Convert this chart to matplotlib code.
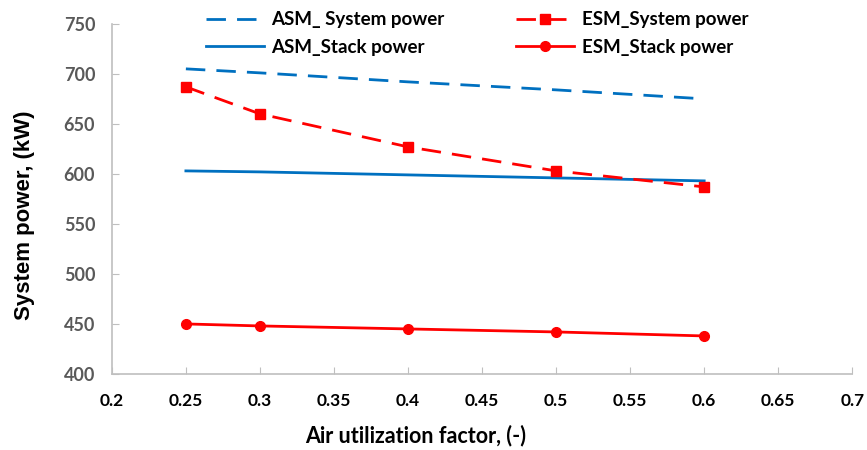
import matplotlib.pyplot as plt
import matplotlib.ticker as ticker

plt.rcParams['font.family'] = ['Lato', 'DejaVu Sans']

air_factor = [0.25, 0.3, 0.4, 0.5, 0.6]
asm_system = [705, 701, 692, 684, 675]
asm_stack = [603, 602, 599, 596, 593]
esm_system = [687, 660, 627, 603, 587]
esm_stack = [450, 448, 445, 442, 438]

blue = '#0070C0'
red = '#FF0000'

fig = plt.figure(figsize=(8.67, 4.5), dpi=100)
ax = fig.add_axes([0.129, 0.169, 0.854, 0.778])

l1, = ax.plot(air_factor, asm_system, color=blue, lw=2, dashes=(7, 4), label='ASM_ System power')
l2, = ax.plot(air_factor, asm_stack, color=blue, lw=2, label='ASM_Stack power')
l3, = ax.plot(air_factor, esm_system, color=red, lw=2, dashes=(7, 4), marker='s', ms=7, label='ESM_System power')
l4, = ax.plot(air_factor, esm_stack, color=red, lw=2, marker='o', ms=7, label='ESM_Stack power')

ax.set_xlim(0.2, 0.7)
ax.set_ylim(400, 750)
ax.xaxis.set_major_locator(ticker.MultipleLocator(0.05))
ax.yaxis.set_major_locator(ticker.MultipleLocator(50))
ax.xaxis.set_major_formatter(ticker.FuncFormatter(lambda v, p: ('%.2f' % v).rstrip('0').rstrip('.')))

for side in ['top', 'right']:
	ax.spines[side].set_visible(False)
for side in ['left', 'bottom']:
	ax.spines[side].set_color('#BFBFBF')
	ax.spines[side].set_linewidth(1.2)

ax.tick_params(axis='x', direction='in', length=5, color='#BFBFBF', labelsize=12.5, pad=14, labelcolor='black')
ax.tick_params(axis='y', direction='in', length=5, color='#BFBFBF', labelsize=13, pad=12, labelcolor='#595959')
for lab in ax.get_yticklabels() + ax.get_xticklabels():
	lab.set_fontweight('bold')

# labels sit off-centre in the original
ax.set_xlabel('Air utilization factor, (-)', fontsize=15.5, fontweight='bold')
ax.xaxis.set_label_coords(0.41, -0.145)
ax.set_ylabel('System power, (kW)', fontsize=16, fontweight='bold', family=['Liberation Sans', 'DejaVu Sans'])
ax.yaxis.set_label_coords(-0.104, 0.454)

fig.legend(handles=[l1, l2, l3, l4], ncol=2, loc='upper left', bbox_to_anchor=(0.218, 1.012),
	frameon=False, prop={'size': 13.5, 'weight': 'bold'}, handlelength=3.1, columnspacing=3.8,
	labelspacing=0.55, handletextpad=0.4)

fig.savefig('out.png', dpi=100)
